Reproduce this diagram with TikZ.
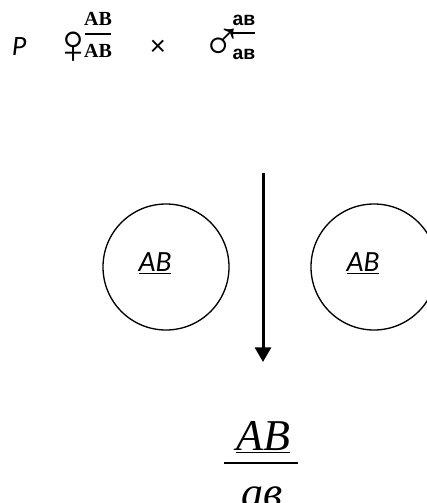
\documentclass[tikz,border=0pt]{standalone}
\usepackage{fontspec}
\setmainfont{Carlito}
\newfontfamily\timesfont{Liberation Serif}
\newfontfamily\arialfont{Liberation Sans}
\usetikzlibrary{arrows.meta,positioning}

\begin{document}
\begin{tikzpicture}[x=0.75pt,y=-0.75pt,
        lbl/.style={inner sep=0pt,font=\fontsize{21}{21}\selectfont\itshape},
        gene/.style={inner sep=0pt,font=\fontsize{22}{22}\selectfont\itshape},
        tiny/.style={inner sep=0pt,font=\fontsize{15}{15}\selectfont\timesfont\bfseries},
        tinyc/.style={inner sep=0pt,font=\fontsize{14.5}{14.5}\selectfont\arialfont\bfseries},
        sex/.style={inner sep=0pt,font=\fontsize{42}{42}\selectfont\arialfont},
        big/.style={inner sep=0pt,font=\fontsize{33}{33}\selectfont\timesfont\itshape},
        gamete/.style={circle,draw,line width=1pt,minimum size=94.5pt,inner sep=0pt},
        arrow/.style={-{Triangle[length=11pt,width=12pt]},line width=2.25pt}]
        \useasboundingbox (0,0) rectangle (426,503);
        % parents
        \node[lbl] (p) at (19,47) {P};
        \node[sex] (fem) at (73,48) {♀};
        \node[tiny] (fnum) at (98,19) {AB};
        \node[tiny] (fden) at (98,51) {AB};
        \draw[line width=1.5pt] (85,34) -- (111,34);
        \node[inner sep=0pt,font=\fontsize{22}{22}\selectfont] (cross) at (158,48) {×};
        \node[sex] (mal) at (222,45) {♂};
        \node[tinyc] (mnum) at (244,20) {ав};
        \node[tinyc] (mden) at (244,54) {ав};
        \draw[line width=1.5pt] (233,33) -- (255,33);
        % gametes
        \node[gamete] (g1) at (166,267) {};
        \node[gamete] (g2) at (374,267) {};
        \node[gene] (g1t) at (155,263) {\underline{AB}};
        \node[gene] (g2t) at (363,263) {\underline{AB}};
        \coordinate (top) at (263,173);
        \coordinate (bot) at (263,362);
        \draw[arrow] (top) -- (bot);
        % offspring
        \node[big] (onum) at (263,437) {\underline{AB}};
        \draw[line width=1.2pt] (224,463) -- (298,463);
        \node[big] (oden) at (262,497) {ав};
      \end{tikzpicture}
\end{document}
